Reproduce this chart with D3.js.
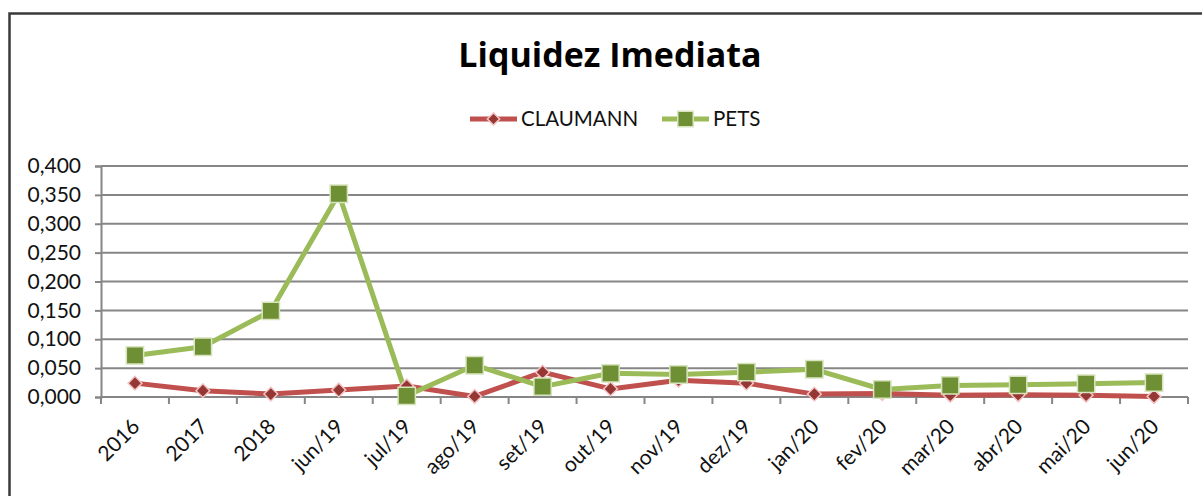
<!DOCTYPE html>
<html>
<head>
<meta charset="utf-8">
<script src="https://cdn.jsdelivr.net/npm/d3@7"></script>
<style>
  body { margin: 0; background: #fff; }
  text { font-family: Lato, "Open Sans", sans-serif; }
</style>
</head>
<body>
<div id="chart"></div>
<script>
var categories = ["2016", "2017", "2018", "jun/19", "jul/19", "ago/19", "set/19", "out/19",
    "nov/19", "dez/19", "jan/20", "fev/20", "mar/20", "abr/20", "mai/20", "jun/20"];
var claumann = [0.024, 0.011, 0.005, 0.012, 0.019, 0.001, 0.043, 0.014,
    0.029, 0.024, 0.005, 0.006, 0.003, 0.004, 0.003, 0.001];
var pets = [0.072, 0.087, 0.149, 0.352, 0.002, 0.055, 0.018, 0.041,
    0.039, 0.043, 0.048, 0.013, 0.020, 0.021, 0.023, 0.025];
var yTicks = [0, 0.05, 0.1, 0.15, 0.2, 0.25, 0.3, 0.35, 0.4];

var width = 1202, height = 496;
var margin = {left: 101, right: 14, top: 166, bottom: 99};

var svg = d3.select("#chart").append("svg")
    .attr("width", width)
    .attr("height", height);

// chart frame (only left and top edges visible in the crop)
svg.append("path")
    .attr("d", "M9.5," + height + " V13.5 H" + width)
    .attr("fill", "none")
    .attr("stroke", "#3a3a3a")
    .attr("stroke-width", 2.5);

var x = d3.scaleBand()
    .domain(categories)
    .range([margin.left, width - margin.right]);

var y = d3.scaleLinear()
    .domain([0, 0.4])
    .range([height - margin.bottom, margin.top]);

var fmt = function(d){ return d3.format(".3f")(d).replace(".", ","); };

// gridlines
svg.append("g")
    .selectAll("line")
    .data(yTicks.slice(1))
    .join("line")
    .attr("x1", margin.left)
    .attr("x2", width - margin.right)
    .attr("y1", function(d){ return y(d); })
    .attr("y2", function(d){ return y(d); })
    .attr("stroke", "#868686")
    .attr("stroke-width", 2);

// y axis
var yAxis = svg.append("g")
    .attr("transform", "translate(" + margin.left + ",0)")
    .call(d3.axisLeft(y).tickValues(yTicks).tickFormat(fmt).tickSize(6).tickPadding(14));
yAxis.select(".domain").attr("stroke", "#868686").attr("stroke-width", 2);
yAxis.selectAll(".tick line").attr("stroke", "#868686").attr("stroke-width", 2);
yAxis.selectAll("text")
    .attr("font-size", 21)
    .attr("fill", "#111")
    .style("font-family", "Lato, sans-serif");

// x axis, ticks on category boundaries
var xAxis = svg.append("g")
    .attr("transform", "translate(0," + y(0) + ")");
xAxis.append("line")
    .attr("x1", margin.left)
    .attr("x2", width - margin.right)
    .attr("stroke", "#868686")
    .attr("stroke-width", 2);
xAxis.selectAll(".bound")
    .data(categories.concat(["end"]))
    .join("line")
    .attr("class", "bound")
    .attr("x1", function(d, i){ return margin.left + i * x.bandwidth(); })
    .attr("x2", function(d, i){ return margin.left + i * x.bandwidth(); })
    .attr("y1", 0)
    .attr("y2", 7)
    .attr("stroke", "#868686")
    .attr("stroke-width", 2);
xAxis.selectAll(".lab")
    .data(categories)
    .join("text")
    .attr("class", "lab")
    .attr("text-anchor", "end")
    .attr("font-size", 21)
    .attr("fill", "#111")
    .attr("transform", function(d){
        return "translate(" + (x(d) + x.bandwidth() / 2 + 6) + ",31) rotate(-45)";
    })
    .text(function(d){ return d; });

var line = d3.line()
    .x(function(d, i){ return x(categories[i]) + x.bandwidth() / 2; })
    .y(function(d){ return y(d); });

var series = [
    {name: "CLAUMANN", values: claumann, color: "#c0504d", mark: "#953735", edge: "#f2c4c3", rot: 45, size: 95},
    {name: "PETS", values: pets, color: "#9bbb59", mark: "#6f8f35", edge: "#d7e4bd", rot: 0, size: 300}
];

series.forEach(function(s){
    svg.append("path")
        .datum(s.values)
        .attr("d", line)
        .attr("fill", "none")
        .attr("stroke", s.color)
        .attr("stroke-width", 5)
        .attr("stroke-linejoin", "round");
});
series.forEach(function(s){
    svg.append("g")
        .selectAll("path")
        .data(s.values)
        .join("path")
        .attr("transform", function(d, i){
            return "translate(" + (x(categories[i]) + x.bandwidth() / 2) + "," + y(d) + ") rotate(" + s.rot + ")";
        })
        .attr("d", d3.symbol().type(d3.symbolSquare).size(s.size))
        .attr("fill", s.mark)
        .attr("stroke", s.edge)
        .attr("stroke-width", 1.5);
});

// title
svg.append("text")
    .attr("x", 610)
    .attr("y", 67)
    .attr("text-anchor", "middle")
    .attr("font-size", 34)
    .attr("font-weight", "bold")
    .attr("fill", "#000")
    .style("font-family", "'Open Sans', sans-serif")
    .text("Liquidez Imediata");

// legend
var legendX = [470, 662];
series.forEach(function(s, i){
    var g = svg.append("g").attr("transform", "translate(" + legendX[i] + ",119)");
    g.append("line")
        .attr("x1", 0).attr("x2", 47)
        .attr("stroke", s.color)
        .attr("stroke-width", 5);
    g.append("path")
        .attr("transform", "translate(23.5,0) rotate(" + s.rot + ")")
        .attr("d", d3.symbol().type(d3.symbolSquare).size(s.size * 0.8))
        .attr("fill", s.mark)
        .attr("stroke", s.edge)
        .attr("stroke-width", 1.5);
    g.append("text")
        .attr("x", 51)
        .attr("dy", "0.35em")
        .attr("font-size", 20.5)
        .attr("fill", "#111")
        .text(s.name);
});
</script>
</body>
</html>
